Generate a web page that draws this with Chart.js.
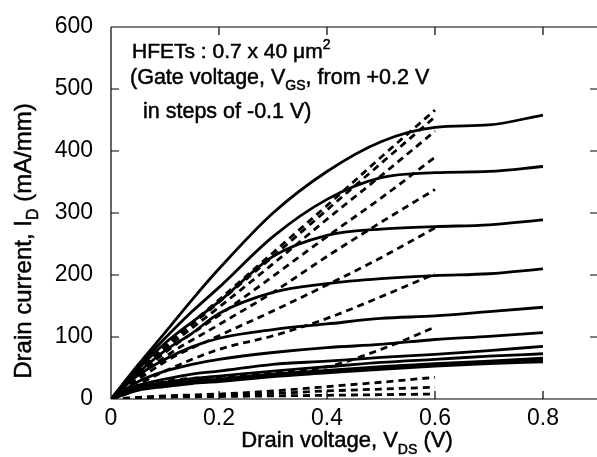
<!DOCTYPE html>
<html>
<head>
<meta charset="utf-8">
<script src="https://cdn.jsdelivr.net/npm/chart.js@4/dist/chart.umd.min.js"></script>
<style>
  html, body { margin: 0; padding: 0; background: #fff; }
  #wrap { width: 597px; height: 457px; }
</style>
</head>
<body>
<div id="wrap"><canvas id="ivChart" width="597" height="457"></canvas></div>
<script>
// drain voltage points (V)
const vdsSolid = [0, 0.05, 0.1, 0.15, 0.2, 0.3, 0.4, 0.5, 0.6, 0.7, 0.8];
const vdsDashed = [0, 0.1, 0.2, 0.3, 0.4, 0.5, 0.6];

// measured curves, VGS = +0.2 ... -0.8 V (mA/mm)
const id_p02 = [0, 55, 107, 160, 210, 300, 367, 415, 438, 442, 458];
const id_p01 = [0, 52, 98, 141, 180, 262, 322, 357, 365, 367, 375];
const id_000 = [0, 48, 90, 124, 157, 230, 264, 274, 278, 281, 289];
const id_m01 = [0, 42, 78, 106, 138, 172, 186, 194, 199, 202, 210];
const id_m02 = [0, 38, 64, 84, 98, 112, 121, 130, 134, 141, 148];
const id_m03 = [0, 28, 45, 56, 64, 75, 83, 88, 96, 101, 107];
const id_m04 = [0, 22, 32, 40, 45, 56, 61, 67, 72, 78, 85];
const id_m05 = [0, 19, 27, 33, 37, 45, 52, 59, 64, 69, 73];
const id_m06 = [0, 16, 24, 29, 32, 40, 46, 52, 57, 61, 66];
const id_m07 = [0, 15, 22, 27, 30, 38, 44, 50, 55, 59, 63];
const id_m08 = [0, 14, 20, 25, 28, 36, 42, 48, 53, 57, 60];

// dashed curves (mA/mm)
const dash1 = [0, 85, 160, 236, 312, 390, 466];
const dash2 = [0, 83, 156, 230, 305, 380, 455];
const dash3 = [0, 80, 148, 218, 290, 360, 432];
const dash4 = [0, 75, 135, 198, 262, 324, 390];
const dash5 = [0, 68, 120, 172, 230, 285, 338];
const dash6 = [0, 60, 102, 142, 184, 228, 276];
const dash7 = [0, 45, 80, 102, 130, 165, 202];
const dash8 = [0, 28, 36, 42, 52, 80, 116];
const dash9 = [0, 5, 8, 13, 20, 27, 35];
const dash10 = [0, 4, 6, 9, 13, 16, 19];
const dash11 = [0, 3, 4, 5, 6, 7, 8];

const xTicks = [0, 0.2, 0.4, 0.6, 0.8];
const yTicks = [0, 100, 200, 300, 400, 500, 600];

const solidSets = [id_p02, id_p01, id_000, id_m01, id_m02, id_m03, id_m04, id_m05, id_m06, id_m07, id_m08];
const dashedSets = [dash1, dash2, dash3, dash4, dash5, dash6, dash7, dash8, dash9, dash10, dash11];

const FONT = '"Liberation Sans", Arial, sans-serif';

function pts(xs, ys) {
    return xs.map((x, i) => ({ x: x, y: ys[i] }));
}

const datasets = [];
solidSets.forEach(s => {
    datasets.push({
        data: pts(vdsSolid, s),
        borderColor: '#000',
        borderWidth: 2.8,
        pointRadius: 0,
        cubicInterpolationMode: 'monotone',
        fill: false
    });
});
dashedSets.forEach(s => {
    datasets.push({
        data: pts(vdsDashed, s),
        borderColor: '#000',
        borderWidth: 2.8,
        borderDash: [7, 5],
        pointRadius: 0,
        cubicInterpolationMode: 'monotone',
        fill: false
    });
});

// draws text with sub/superscript runs, returns width
function richText(ctx, parts, x, y, size, measureOnly) {
    let cx = x;
    parts.forEach(p => {
        const small = p[1] !== 'n';
        ctx.font = (small ? Math.round(size * 0.65) : size) + 'px ' + FONT;
        let dy = 0;
        if (p[1] === 'sub') dy = size * 0.3;
        if (p[1] === 'sup') dy = -size * 0.42;
        if (!measureOnly) {
            ctx.fillText(p[0], cx, y + dy);
            ctx.strokeText(p[0], cx, y + dy);
        }
        cx += ctx.measureText(p[0]).width;
    });
    return cx - x;
}

const framePlugin = {
    id: 'frame',
    afterDraw(chart) {
        const ctx = chart.ctx;
        const a = chart.chartArea;
        const xs = chart.scales.x, ys = chart.scales.y;
        ctx.save();
        ctx.strokeStyle = '#000';
        ctx.lineWidth = 1.2;
        ctx.beginPath();
        ctx.moveTo(a.left, a.top); ctx.lineTo(a.right, a.top);
        ctx.moveTo(a.left, a.top); ctx.lineTo(a.left, a.bottom);
        ctx.moveTo(a.left, a.bottom); ctx.lineTo(a.right, a.bottom);
        // inward ticks
        xTicks.forEach(v => {
            const px = xs.getPixelForValue(v);
            ctx.moveTo(px, a.bottom); ctx.lineTo(px, a.bottom - 8);
            ctx.moveTo(px, a.top); ctx.lineTo(px, a.top + 8);
        });
        yTicks.forEach(v => {
            const py = ys.getPixelForValue(v);
            ctx.moveTo(a.left, py); ctx.lineTo(a.left + 8, py);
            ctx.moveTo(a.right, py); ctx.lineTo(a.right - 7, py);
        });
        ctx.stroke();

        ctx.fillStyle = '#000';
        ctx.lineWidth = 0.5;
        ctx.textBaseline = 'alphabetic';
        ctx.textAlign = 'left';
        // annotation
        richText(ctx, [['HFETs : 0.7 x 40 \u03bcm', 'n'], ['2', 'sup']], 132, 58, 21);
        richText(ctx, [['(Gate voltage, V', 'n'], ['GS', 'sub'], [', from +0.2 V', 'n']], 130, 84, 21.5);
        richText(ctx, [['in steps of -0.1 V)', 'n']], 143, 118, 21.5);

        // x title
        const xt = [['Drain voltage, V', 'n'], ['DS', 'sub'], [' (V)', 'n']];
        const xw = richText(ctx, xt, 0, 0, 22, true);
        richText(ctx, xt, 347 - xw / 2, 447, 22);

        // y title
        const yt = [['Drain current, I', 'n'], ['D', 'sub'], [' (mA/mm)', 'n']];
        const yw = richText(ctx, yt, 0, 0, 24, true);
        ctx.translate(31, 241);
        ctx.rotate(-Math.PI / 2);
        richText(ctx, yt, -yw / 2, 0, 24);
        ctx.restore();
    }
};

new Chart(document.getElementById('ivChart'), {
    type: 'line',
    data: { datasets: datasets },
    options: {
        responsive: false,
        animation: false,
        layout: { padding: { left: 0, right: 0, top: 27, bottom: 0 } },
        plugins: { legend: { display: false }, tooltip: { enabled: false } },
        scales: {
            x: {
                type: 'linear',
                min: 0,
                max: 0.9,
                afterBuildTicks: s => { s.ticks = xTicks.map(v => ({ value: v })); },
                afterFit: s => { s.height = 58; },
                grid: { display: false },
                border: { display: false },
                ticks: {
                    color: '#000',
                    padding: -2,
                    font: { family: FONT, size: 23 },
                    callback: v => v === 0 ? '0' : v.toFixed(1)
                }
            },
            y: {
                min: 0,
                max: 600,
                afterBuildTicks: s => { s.ticks = yTicks.map(v => ({ value: v })); },
                afterFit: s => { s.width = 111; },
                grid: { display: false },
                border: { display: false },
                ticks: {
                    color: '#000',
                    padding: 10,
                    font: { family: FONT, size: 23 }
                }
            }
        }
    },
    plugins: [framePlugin]
});
</script>
</body>
</html>
